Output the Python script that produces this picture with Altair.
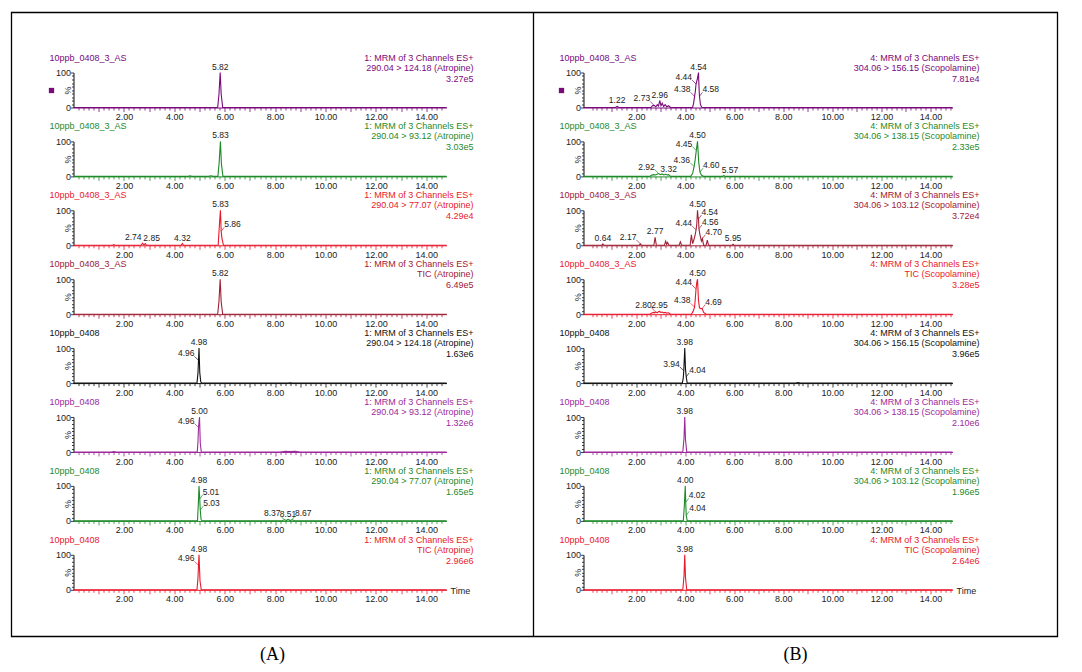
import altair as alt
import pandas as pd

FONT = "Liberation Sans"

PURPLE = "#7a0a7a"
PURPLE2 = "#9c2a9c"
GREEN = "#1f8a2a"
RED = "#e8192c"
MAROON = "#9e2036"
BLACK = "#111111"

# ---------------- (A) Atropine ----------------
A_SAMPLE = ["10ppb_0408_3_AS"] * 4 + ["10ppb_0408"] * 4
A_CHANNEL = "1: MRM of 3 Channels ES+"
A_TRANS = ["290.04 > 124.18 (Atropine)", "290.04 > 93.12 (Atropine)", "290.04 > 77.07 (Atropine)", "TIC (Atropine)",
           "290.04 > 124.18 (Atropine)", "290.04 > 93.12 (Atropine)", "290.04 > 77.07 (Atropine)", "TIC (Atropine)"]
A_INT = ["3.27e5", "3.03e5", "4.29e4", "6.49e5", "1.63e6", "1.32e6", "1.65e5", "2.96e6"]
A_COLORS = [PURPLE, GREEN, RED, MAROON, BLACK, PURPLE2, GREEN, RED]

A1_T = [0, 5.72, 5.77, 5.82, 5.86, 5.92, 14.8]
A1_Y = [0, 0, 35, 100, 38, 0, 0]
A1_PK = [("5.82", 100, "top")]

A2_T = [0, 4.55, 4.62, 4.70, 5.35, 5.45, 5.55, 5.73, 5.78, 5.83, 5.87, 5.93, 14.8]
A2_Y = [0, 0, 1.5, 0, 0, 2, 0, 0, 40, 100, 35, 0, 0]
A2_PK = [("5.83", 100, "top")]

A3_T = [0, 1.55, 1.6, 1.65, 2.68, 2.74, 2.79, 2.85, 2.9, 4.27, 4.32, 4.37, 5.74, 5.80, 5.83, 5.86, 5.89, 5.95, 14.8]
A3_Y = [0, 0, 2, 0, 0, 6, 1, 5, 0, 0, 5, 0, 0, 70, 100, 40, 20, 0, 0]
A3_PK = [("2.74", 6, "tl"), ("2.85", 5, "tr"), ("4.32", 5, "top"), ("5.83", 100, "top"), ("5.86", 40, "r")]

A4_T = [0, 5.72, 5.77, 5.82, 5.86, 5.92, 14.8]
A4_Y = [0, 0, 35, 100, 35, 0, 0]
A4_PK = [("5.82", 100, "top")]

A5_T = [0, 4.90, 4.94, 4.96, 4.98, 5.01, 5.05, 5.10, 8.5, 8.6, 8.7, 14.8]
A5_Y = [0, 0, 30, 65, 100, 30, 3, 0, 0, 1, 0, 0]
A5_PK = [("4.98", 100, "top"), ("4.96", 65, "l")]

A6_T = [0, 1.5, 1.6, 1.7, 4.91, 4.94, 4.96, 5.00, 5.03, 5.07, 8.2, 8.4, 8.6, 8.8, 9.0, 14.8]
A6_Y = [0, 0, 1.5, 0, 0, 30, 70, 100, 25, 0, 0, 2, 1.5, 2, 0, 0]
A6_PK = [("5.00", 100, "top"), ("4.96", 70, "l")]

A7_T = [0, 4.92, 4.96, 4.98, 5.00, 5.01, 5.02, 5.03, 5.06, 5.1, 8.25, 8.37, 8.45, 8.51, 8.6, 8.67, 8.8, 14.8]
A7_Y = [0, 0, 60, 100, 75, 63, 45, 31, 5, 0, 0, 3, 1, 4, 1, 3, 0, 0]
A7_PK = [("4.98", 100, "top"), ("5.01", 63, "r"), ("5.03", 31, "r"), ("8.37", 3, "l"), ("8.51", 4, "top"), ("8.67", 3, "r")]

A8_T = [0, 4.90, 4.94, 4.96, 4.98, 5.02, 5.07, 14.8]
A8_Y = [0, 0, 35, 70, 100, 25, 0, 0]
A8_PK = [("4.98", 100, "top"), ("4.96", 70, "l")]

# ---------------- (B) Scopolamine ----------------
B_SAMPLE = ["10ppb_0408_3_AS"] * 4 + ["10ppb_0408"] * 4
B_CHANNEL = "4: MRM of 3 Channels ES+"
B_TRANS = ["304.06 > 156.15 (Scopolamine)", "304.06 > 138.15 (Scopolamine)", "304.06 > 103.12 (Scopolamine)", "TIC (Scopolamine)",
           "304.06 > 156.15 (Scopolamine)", "304.06 > 138.15 (Scopolamine)", "304.06 > 103.12 (Scopolamine)", "TIC (Scopolamine)"]
B_INT = ["7.81e4", "2.33e5", "3.72e4", "3.28e5", "3.96e5", "2.10e6", "1.96e5", "2.64e6"]
B_COLORS = [PURPLE, GREEN, MAROON, RED, BLACK, PURPLE2, GREEN, RED]

B1_T = [-0.15, 1.15, 1.22, 1.3, 2.6, 2.66, 2.73, 2.8, 2.86, 2.91, 2.96, 3.01, 3.06, 3.12, 3.18, 3.25, 3.32, 3.4,
        4.3, 4.34, 4.38, 4.41, 4.44, 4.49, 4.54, 4.56, 4.58, 4.62, 4.68, 14.9]
B1_Y = [0, 0, 3, 0, 0, 5, 6, 2, 8, 4, 20, 5, 12, 3, 8, 2, 5, 0,
        0, 12, 32, 45, 67, 80, 100, 60, 32, 8, 0, 0]
B1_PK = [("1.22", 3, "top"), ("2.73", 6, "l"), ("2.96", 20, "top"), ("4.38", 32, "l"), ("4.44", 67, "l"),
         ("4.54", 100, "top"), ("4.58", 32, "r")]

B2_T = [-0.15, 2.55, 2.62, 2.7, 2.78, 2.85, 2.92, 2.98, 3.05, 3.12, 3.2, 3.26, 3.32, 3.4,
        4.22, 4.30, 4.36, 4.40, 4.45, 4.50, 4.55, 4.60, 4.66, 4.75, 5.5, 5.57, 5.65, 14.9]
B2_Y = [0, 0, 3, 5, 4, 6, 8, 5, 7, 4, 6, 4, 5, 0,
        0, 8, 28, 45, 74, 100, 40, 12, 4, 0, 0, 2, 0, 0]
B2_PK = [("2.92", 8, "l"), ("3.32", 5, "top"), ("4.36", 28, "l"), ("4.45", 74, "l"), ("4.50", 100, "top"),
         ("4.60", 12, "r"), ("5.57", 2, "tr")]

B3_T = [-0.15, 0.6, 0.64, 0.68, 2.12, 2.17, 2.22, 2.72, 2.77, 2.82, 3.15, 3.2, 3.24, 3.28, 3.32, 3.36, 3.75, 3.8, 3.85,
        4.2, 4.25, 4.3, 4.35, 4.40, 4.44, 4.47, 4.50, 4.52, 4.54, 4.56, 4.60, 4.66, 4.70, 4.75, 4.85, 4.9, 4.95,
        5.9, 5.95, 6.0, 14.9]
B3_Y = [0, 0, 4, 0, 0, 4, 0, 0, 23, 0, 0, 12, 3, 8, 2, 0, 0, 10, 0,
        0, 30, 5, 15, 28, 44, 60, 100, 82, 75, 47, 30, 12, 19, 0, 0, 15, 0,
        0, 3, 0, 0]
B3_PK = [("0.64", 4, "top"), ("2.17", 4, "l"), ("2.77", 23, "top"), ("4.44", 44, "l"), ("4.50", 100, "top"),
         ("4.54", 75, "r"), ("4.56", 47, "r"), ("4.70", 19, "r"), ("5.95", 3, "top")]

B4_T = [-0.15, 2.55, 2.62, 2.7, 2.75, 2.80, 2.86, 2.90, 2.95, 3.0, 3.06, 3.12, 3.18, 3.25, 3.32, 3.4,
        4.25, 4.32, 4.38, 4.41, 4.44, 4.47, 4.50, 4.54, 4.58, 4.64, 4.69, 4.75, 4.85, 14.9]
B4_Y = [0, 0, 3, 5, 4, 6, 4, 7, 8, 5, 6, 4, 5, 3, 4, 0,
        0, 8, 20, 45, 72, 90, 100, 40, 18, 16, 16, 5, 0, 0]
B4_PK = [("2.80", 6, "l"), ("2.95", 8, "top"), ("4.38", 20, "l"), ("4.44", 72, "l"), ("4.50", 100, "top"),
         ("4.69", 16, "r")]

B5_T = [-0.15, 3.88, 3.92, 3.94, 3.98, 4.01, 4.04, 4.08, 8.5, 8.6, 8.7, 14.9]
B5_Y = [0, 0, 15, 35, 100, 40, 18, 0, 0, 1.5, 0, 0]
B5_PK = [("3.98", 100, "top"), ("3.94", 35, "l"), ("4.04", 18, "r")]

B6_T = [-0.15, 3.9, 3.95, 3.98, 4.01, 4.06, 14.9]
B6_Y = [0, 0, 40, 100, 35, 0, 0]
B6_PK = [("3.98", 100, "top")]

B7_T = [-0.15, 3.92, 3.96, 4.00, 4.02, 4.04, 4.08, 14.9]
B7_Y = [0, 0, 40, 100, 53, 16, 0, 0]
B7_PK = [("4.00", 100, "top"), ("4.02", 53, "r"), ("4.04", 16, "r")]

B8_T = [-0.15, 3.9, 3.95, 3.98, 4.01, 4.06, 14.9]
B8_Y = [0, 0, 40, 100, 35, 0, 0]
B8_PK = [("3.98", 100, "top")]

MAJOR_TICKS = [2, 4, 6, 8, 10, 12, 14]
Y_TICKS = [0, 10, 20, 30, 40, 50, 60, 70, 80, 90, 100]

A_DOMAIN, A_W = [0, 14.8], 373
B_DOMAIN, B_W = [-0.15, 14.9], 369
PANEL_H = 35


def minor_ticks(lo, hi):
    return [round(0.2 * i, 1) for i in range(int(lo / 0.2) + 1, int(hi / 0.2) + 1) if lo < 0.2 * i < hi]


def x_axis(color, values):
    return alt.Axis(
        values=values, title=None, grid=False,
        domainColor=color, tickColor=color, domainWidth=1, tickWidth=0.8,
        tickSize={"condition": {"test": "abs(datum.value - round(datum.value)) < 0.001", "value": 4}, "value": 2.5},
        labelExpr="indexof([" + ",".join(str(v) for v in MAJOR_TICKS) + "], datum.value) >= 0 ? format(datum.value, '.2f') : ''",
        labelFont=FONT, labelFontSize=9, labelColor="#222", labelPadding=1,
        labelOverlap=False, labelBound=False, labelFlush=False,
    )


Y_AXIS = alt.Axis(
    values=Y_TICKS, grid=False, title="%", titleAngle=-90, titleX=-6, titleY=PANEL_H / 2,
    titleAlign="center", titleBaseline="middle",
    titleFont=FONT, titleFontSize=9, titleFontWeight="normal", titleColor="#222",
    labelExpr="datum.value == 0 || datum.value == 100 ? datum.label : ''",
    tickSize={"condition": {"test": "datum.value == 0 || datum.value == 100", "value": 3}, "value": 2},
    labelFont=FONT, labelFontSize=9, labelColor="#222", labelPadding=0,
    domainColor="#111", tickColor="#111", domainWidth=1, tickWidth=0.8,
    labelOverlap=False, labelBound=False, labelFlush=False,
)


def panel(t, y, peaks, sample, channel, trans, inten, color, dom, w, marker=False, time=False, frame=False):
    X = alt.X("t:Q", scale=alt.Scale(domain=dom, nice=False, zero=False), axis=x_axis(color, minor_ticks(dom[0], dom[1])))
    Y = alt.Y("y:Q", scale=alt.Scale(domain=[0, 100], nice=False), axis=Y_AXIS)
    tr = pd.DataFrame({"t": t, "y": y})
    pk = pd.DataFrame({"lbl": [p[0] for p in peaks], "t": [float(p[0]) for p in peaks],
                       "y": [p[1] for p in peaks], "side": [p[2] for p in peaks]})
    hd = pd.DataFrame({"s": [sample], "c": [channel], "tr": [trans], "i": [inten]})
    txt = dict(font=FONT, fontSize=8.5, color="#222", baseline="middle")

    layers = [alt.Chart(tr).mark_line(color=color, strokeWidth=1.1).encode(x=X, y=Y)]
    layers.append(alt.Chart(pk).transform_filter("datum.side == 'top'")
                  .mark_text(dy=-6, align="center", **txt).encode(x=X, y=Y, text="lbl:N"))
    layers.append(alt.Chart(pk).transform_filter("datum.side == 'tl'")
                  .mark_text(dy=-6, dx=-1, align="right", **txt).encode(x=X, y=Y, text="lbl:N"))
    layers.append(alt.Chart(pk).transform_filter("datum.side == 'tr'")
                  .mark_text(dy=-6, dx=-2, align="left", **txt).encode(x=X, y=Y, text="lbl:N"))
    layers.append(alt.Chart(pk).transform_filter("datum.side == 'l'")
                  .mark_rule(color=color, strokeWidth=0.7, x2Offset=-4, y2Offset=-4)
                  .encode(x=X, y=Y, x2="t:Q", y2="y:Q"))
    layers.append(alt.Chart(pk).transform_filter("datum.side == 'l'")
                  .mark_text(dx=-4, dy=-7, align="right", **txt).encode(x=X, y=Y, text="lbl:N"))
    layers.append(alt.Chart(pk).transform_filter("datum.side == 'r'")
                  .mark_rule(color=color, strokeWidth=0.7, x2Offset=3, y2Offset=-4)
                  .encode(x=X, y=Y, x2="t:Q", y2="y:Q"))
    layers.append(alt.Chart(pk).transform_filter("datum.side == 'r'")
                  .mark_text(dx=3, dy=-7, align="left", **txt).encode(x=X, y=Y, text="lbl:N"))

    hdr = dict(font=FONT, fontSize=9, color=color, baseline="middle")
    layers.append(alt.Chart(hd).mark_text(align="left", **hdr)
                  .encode(x=alt.value(-24), y=alt.value(-15), text="s:N"))
    for field, yy in (("c", -15), ("tr", -5), ("i", 6)):
        layers.append(alt.Chart(hd).mark_text(align="right", **hdr)
                      .encode(x=alt.value(w + 27), y=alt.value(yy), text=f"{field}:N"))
    if marker:
        layers.append(alt.Chart(hd).mark_square(size=28, color=PURPLE, opacity=1, filled=True)
                      .encode(x=alt.value(-22), y=alt.value(18)))
    if time:
        layers.append(alt.Chart(hd).mark_text(align="left", font=FONT, fontSize=9, color="#222", baseline="middle")
                      .encode(x=alt.value(w + 4), y=alt.value(PANEL_H + 1), text=alt.value("Time")))
    if frame:
        layers.append(alt.Chart(hd).mark_rect(fillOpacity=0, stroke="black", strokeWidth=1.3)
                      .encode(x=alt.value(-62), x2=alt.value(984), y=alt.value(-60), y2=alt.value(564)))
        layers.append(alt.Chart(hd).mark_rule(color="black", strokeWidth=1.3)
                      .encode(x=alt.value(460), y=alt.value(-60), y2=alt.value(564)))
        for lab, xx in (("(A)", 199), ("(B)", 722)):
            layers.append(alt.Chart(hd).mark_text(font="Liberation Serif", fontSize=18, color="black",
                                                  align="center", baseline="middle")
                          .encode(x=alt.value(xx), y=alt.value(582), text=alt.value(lab)))
    return alt.layer(*layers).properties(width=w, height=PANEL_H)


A_DATA = [(A1_T, A1_Y, A1_PK), (A2_T, A2_Y, A2_PK), (A3_T, A3_Y, A3_PK), (A4_T, A4_Y, A4_PK),
          (A5_T, A5_Y, A5_PK), (A6_T, A6_Y, A6_PK), (A7_T, A7_Y, A7_PK), (A8_T, A8_Y, A8_PK)]
B_DATA = [(B1_T, B1_Y, B1_PK), (B2_T, B2_Y, B2_PK), (B3_T, B3_Y, B3_PK), (B4_T, B4_Y, B4_PK),
          (B5_T, B5_Y, B5_PK), (B6_T, B6_Y, B6_PK), (B7_T, B7_Y, B7_PK), (B8_T, B8_Y, B8_PK)]

cells = []
for i in range(8):
    ta, ya, pa = A_DATA[i]
    tb, yb, pb = B_DATA[i]
    cells.append(panel(ta, ya, pa, A_SAMPLE[i], A_CHANNEL, A_TRANS[i], A_INT[i], A_COLORS[i], A_DOMAIN, A_W,
                       marker=(i == 0), time=(i == 7), frame=(i == 0)))
    cells.append(panel(tb, yb, pb, B_SAMPLE[i], B_CHANNEL, B_TRANS[i], B_INT[i], B_COLORS[i], B_DOMAIN, B_W,
                       marker=(i == 0), time=(i == 7)))

chart = alt.concat(
    *cells, columns=2, spacing={"row": 33.9, "column": 137}, bounds="flush",
).properties(
    padding={"left": 2.5, "top": 3.5, "right": 2, "bottom": 0},
    background="white",
).configure_view(strokeWidth=0)

chart.save("out.html", embed_options={"renderer": "svg", "actions": False})
